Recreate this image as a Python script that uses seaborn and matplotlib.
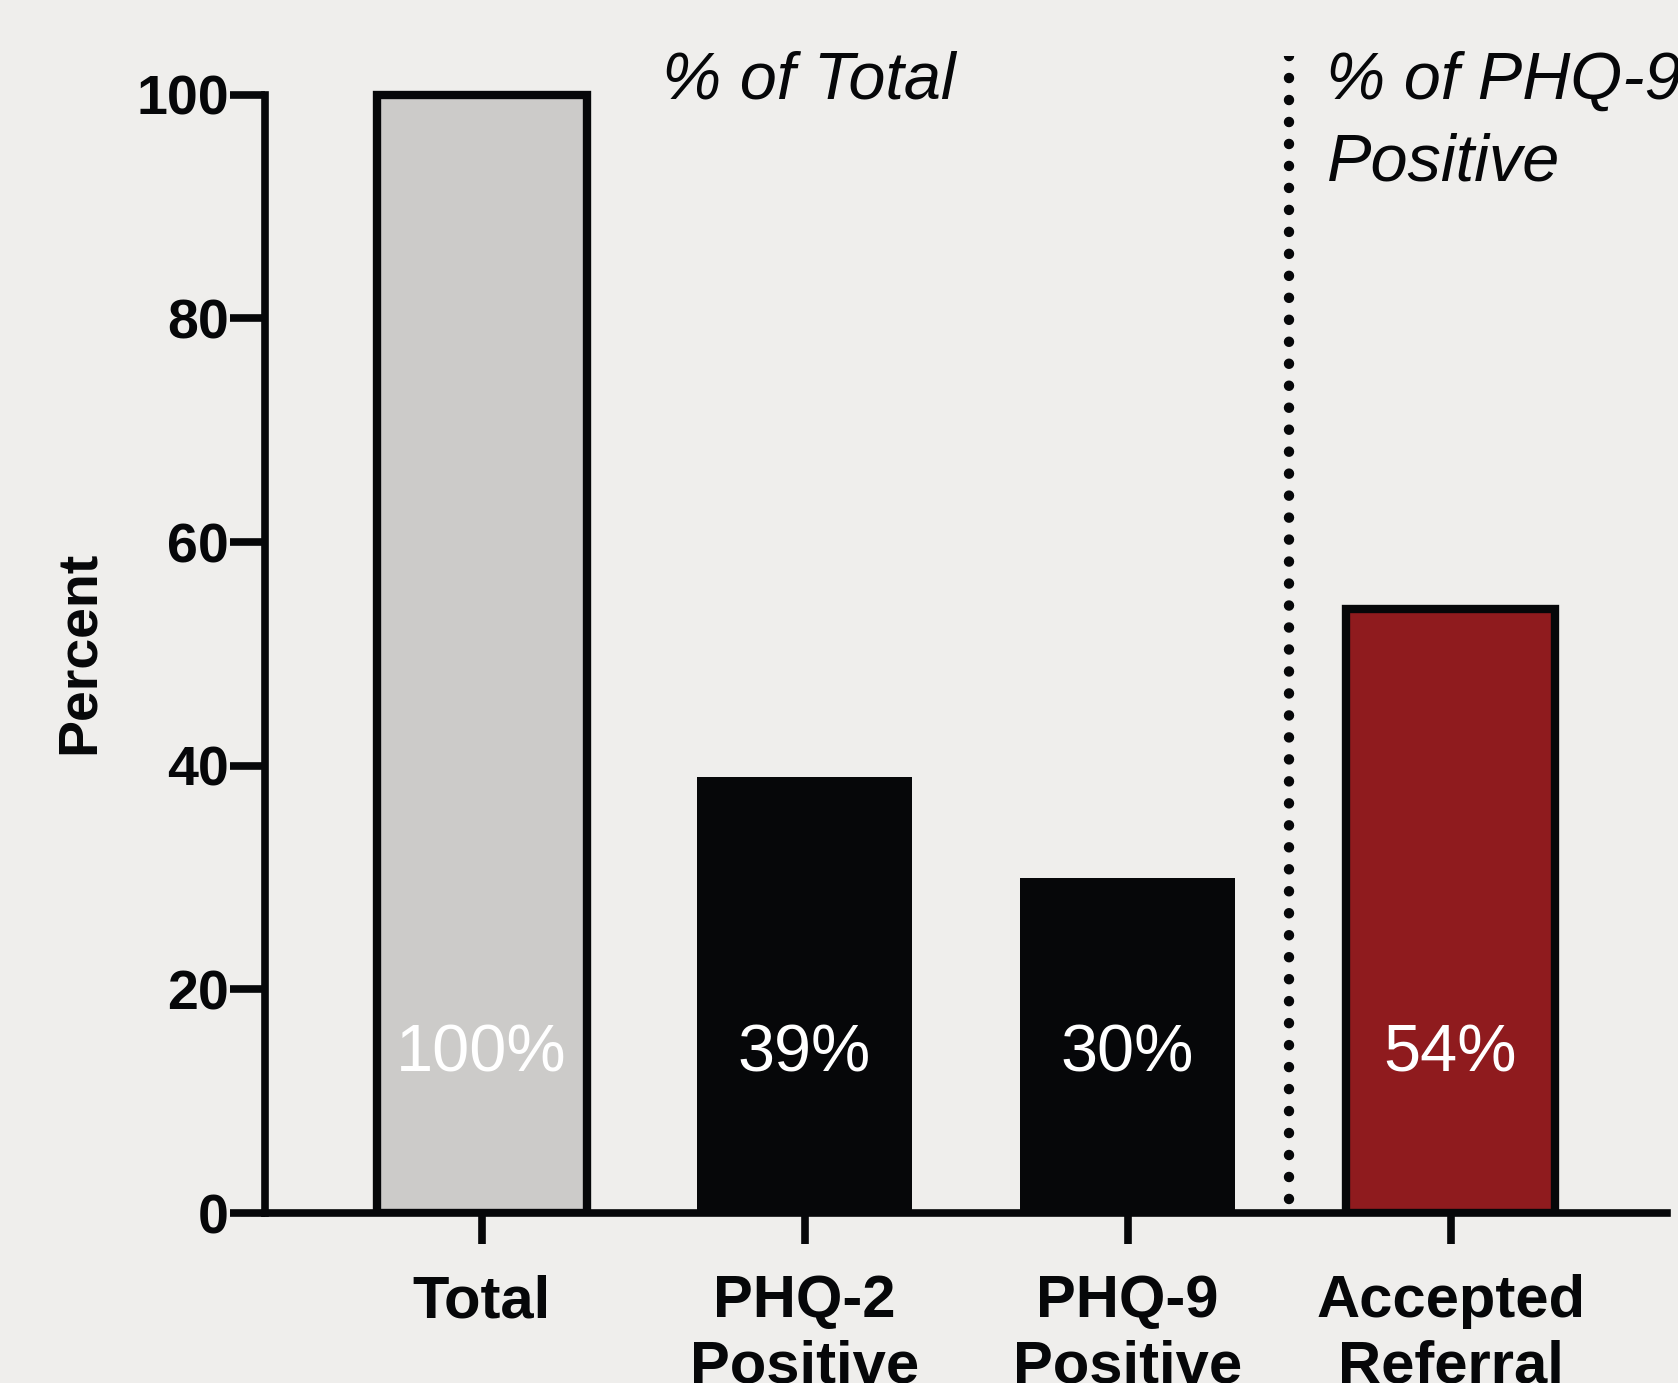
import matplotlib
matplotlib.use("Agg")
import matplotlib.pyplot as plt
import seaborn as sns
import pandas as pd

# data
categories = ["Total", "PHQ-2\nPositive", "PHQ-9\nPositive", "Accepted\nReferral"]
values = [100, 39, 30, 54]
bar_labels = ["100%", "39%", "30%", "54%"]
bar_colors = ["#cccbc9", "#060709", "#060709", "#8f1b1e"]
edge_on = [True, False, False, True]

bg = "#efeeec"
ink = "#060709"

sns.set_theme(style="white")
plt.rcParams["font.family"] = ["Liberation Sans", "DejaVu Sans"]

fig = plt.figure(figsize=(16.78, 13.83), dpi=100, facecolor=bg)
ax = fig.add_axes([0.158, 0.1229, 0.8354, 0.8369])
ax.set_facecolor(bg)

df = pd.DataFrame({"cat": categories, "val": values})
sns.barplot(data=df, x="cat", y="val", hue="cat", palette=bar_colors,
            legend=False, width=0.65, saturation=1, ax=ax)

for p, e in zip(ax.patches, edge_on):
    if e:
        p.set_edgecolor(ink)
        p.set_linewidth(6)
    else:
        p.set_edgecolor("none")
        p.set_width(0.665)
        p.set_x(p.get_x() - 0.0075)

for i, lab in enumerate(bar_labels):
    ax.text(i, 14.2, lab, color="white", fontsize=48, ha="center", va="center")

# dotted separator, drawn from the top down
ax.axvline(2.5, ymin=1, ymax=0, color=ink, lw=7.5,
           linestyle=(0, (0.01, 2.1)), dash_capstyle="round")

ax.text(0.56, 101.2, "% of Total", fontsize=48, style="italic",
        ha="left", va="center", color=ink)
ax.text(2.616, 103.9, "% of PHQ-9\nPositive", fontsize=48, style="italic",
        ha="left", va="top", color=ink, linespacing=1.4, clip_on=False)

ax.set_xlim(-0.67, 3.67)
ax.set_ylim(0, 103.5)
ax.set_yticks([0, 20, 40, 60, 80, 100])
ax.spines["top"].set_visible(False)
ax.spines["right"].set_visible(False)
ax.spines["left"].set_bounds(0, 100)
for s in ["left", "bottom"]:
    ax.spines[s].set_linewidth(5.5)
    ax.spines[s].set_color(ink)

ax.tick_params(axis="y", length=25, width=5.5, color=ink, left=True,
               labelsize=40, pad=1, labelcolor=ink)
ax.tick_params(axis="x", length=22, width=5.5, color=ink, bottom=True,
               labelsize=43, pad=22, labelcolor=ink)
for t in ax.get_yticklabels() + ax.get_xticklabels():
    t.set_fontweight("bold")
for t in ax.get_xticklabels():
    t.set_linespacing(1.25)

ax.set_xlabel("")
ax.set_ylabel("Percent", fontsize=40, fontweight="bold", color=ink)
ax.yaxis.label.set_va("center")
ax.yaxis.set_label_coords(-0.132, 0.484)

fig.savefig("out.png", dpi=100, facecolor=bg)
